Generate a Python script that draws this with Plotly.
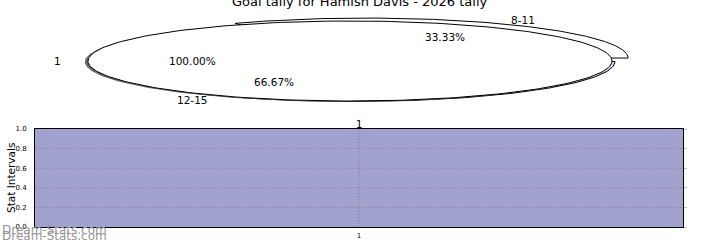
import numpy as np
import plotly.graph_objects as go

# ---------------- data ----------------
title_text = "Goal tally for Hamish Davis - 2026 tally"
y_title_text = "Stat Intervals"
pie1_labels = ["1"]
pie1_values = [1]
pie2_labels = ["8-11", "12-15"]
pie2_values = [1, 2]
pie2_explode = [0.1, 0.0]
pie2_colors = ["#ffffff", "#d8dcee"]
bar_x = [1]
bar_y = [1.0]
y_tick_vals = [0.0, 0.2, 0.4, 0.6, 0.8, 1.0]
x_tick_vals = [1]
x_tick_text = ["1"]

# ---------------- layout constants ----------------
W, H = 720, 240
RX, RY = 262, 40
P1_CX, P1_CY = 350, 61
P2_CX, P2_CY = 353, 61.5
FONT = "DejaVu Sans"


def to_px(cx, cy, ux, uy):
    return cx + RX * np.asarray(ux), cy - RY * np.asarray(uy)


def wedge(cx, cy, t1, t2, ox=0.0, oy=0.0):
    th = np.radians(np.linspace(t1, t2, 240))
    if abs((t2 - t1) - 360) < 1e-9:
        ux = np.cos(th) + ox
        uy = np.sin(th) + oy
    else:
        ux = np.concatenate([[0], np.cos(th), [0]]) + ox
        uy = np.concatenate([[0], np.sin(th), [0]]) + oy
    return to_px(cx, cy, ux, uy)


fig = go.Figure()
annotations = []


def add_pie(values, labels, cx, cy, explode, colors, shadow=False):
    total = float(sum(values))
    start = 0.0
    for i, v in enumerate(values):
        frac = v / total
        t1, t2 = start, start + 360.0 * frac
        mid = np.radians((t1 + t2) / 2)
        e = explode[i]
        ox, oy = e * np.cos(mid), e * np.sin(mid)
        if shadow:
            sx, sy = wedge(cx, cy, t1, t2, ox - 0.012, oy - 0.02)
            fig.add_trace(go.Scatter(x=sx, y=sy, mode="lines", fill="toself",
                                     fillcolor="rgb(105,105,105)",
                                     line=dict(width=0, color="rgb(105,105,105)"),
                                     hoverinfo="skip", showlegend=False,
                                     xaxis="x", yaxis="y"))
        px, py = wedge(cx, cy, t1, t2, ox, oy)
        fig.add_trace(go.Scatter(x=px, y=py, mode="lines", fill="toself",
                                 fillcolor=colors[i],
                                 line=dict(width=1, color="black"),
                                 hoverinfo="skip", showlegend=False,
                                 xaxis="x", yaxis="y"))
        lx, ly = to_px(cx, cy, 1.1 * np.cos(mid) + ox, 1.1 * np.sin(mid) + oy)
        annotations.append(dict(text=labels[i], x=float(lx), y=float(ly), xref="x", yref="y",
                                xanchor="left" if np.cos(mid) > 0 else "right",
                                yanchor="middle", showarrow=False, borderpad=0,
                                font=dict(family=FONT, size=10.5, color="black")))
        qx, qy = to_px(cx, cy, 0.6 * np.cos(mid) + ox, 0.6 * np.sin(mid) + oy)
        annotations.append(dict(text="%.2f%%" % (100 * frac), x=float(qx), y=float(qy),
                                xref="x", yref="y", xanchor="center", yanchor="middle",
                                showarrow=False, borderpad=0,
                                font=dict(family=FONT, size=10.5, color="black")))
        start = t2


add_pie(pie2_values, pie2_labels, P2_CX, P2_CY, pie2_explode, pie2_colors)
add_pie(pie1_values, pie1_labels, P1_CX, P1_CY, [0.0], ["#ffffff"], shadow=True)

# bar panel
fig.add_trace(go.Bar(x=bar_x, y=bar_y, width=1.0,
                     marker=dict(color="#a2a2cf", line=dict(width=0)),
                     hoverinfo="skip", showlegend=False,
                     xaxis="x2", yaxis="y2"))
# carrier for the right-hand tick marks (no marks of its own)
fig.add_trace(go.Scatter(x=[], y=[], mode="markers", hoverinfo="skip",
                         showlegend=False, xaxis="x2", yaxis="y3"))

GRID = dict(color="rgb(125,125,145)", width=1, dash="1px,2px")
shapes = []
for v in y_tick_vals[1:-1]:
    shapes.append(dict(type="line", xref="x2 domain", yref="y2", x0=0, x1=1, y0=v, y1=v,
                       line=GRID, layer="above"))
for v in x_tick_vals:
    shapes.append(dict(type="line", xref="x2", yref="y2 domain", x0=v, x1=v, y0=0, y1=1,
                       line=GRID, layer="above"))


def py2paper(py):
    return 1 - py / H


annotations += [
    dict(text=title_text, x=0.5, y=py2paper(1.5), xref="paper", yref="paper",
         xanchor="center", yanchor="middle", showarrow=False,
         font=dict(family=FONT, size=13, color="black")),
    dict(text=y_title_text, x=11 / W, y=0.5, xref="paper", yref="y2 domain",
         xanchor="center", yanchor="middle", textangle=-90, showarrow=False, borderpad=0,
         font=dict(family=FONT, size=10.5, color="black")),
    dict(text=x_tick_text[0], x=x_tick_vals[0], y=1, xref="x2", yref="y2 domain",
         xanchor="center", yanchor="bottom", yshift=-2, showarrow=False, borderpad=0,
         font=dict(family=FONT, size=10, color="black")),
    dict(text="Dream-Stats.com", x=0, y=py2paper(230), xref="paper", yref="paper",
         xanchor="left", yanchor="middle", showarrow=False,
         font=dict(family=FONT, size=12, color="rgb(150,150,150)")),
    dict(text="Dream-Stats.com", x=0, y=py2paper(235.5), xref="paper", yref="paper",
         xanchor="left", yanchor="middle", showarrow=False,
         font=dict(family=FONT, size=12, color="rgb(150,150,150)")),
]

fig.update_layout(
    width=W, height=H,
    margin=dict(l=0, r=0, t=0, b=0),
    paper_bgcolor="white",
    plot_bgcolor="rgba(0,0,0,0)",
    showlegend=False,
    bargap=0,
    xaxis=dict(domain=[0, 1], range=[0, W], visible=False, fixedrange=True, automargin=False),
    yaxis=dict(domain=[0, 1], range=[H, 0], visible=False, fixedrange=True, automargin=False),
    xaxis2=dict(domain=[35 / W, 683 / W], anchor="y2", range=[0.5, 1.5], automargin=False,
                tickvals=x_tick_vals, ticktext=x_tick_text, ticks="",
                ticklabelstandoff=2,
                showgrid=False, zeroline=False,
                showline=True, mirror=True, linecolor="black", linewidth=1,
                tickfont=dict(family=FONT, size=7, color="black")),
    yaxis2=dict(domain=[13 / H, 111 / H], anchor="x2", range=[0, 1], automargin=False,
                tickvals=y_tick_vals, tickformat=".1f", ticks="",
                ticklabelstandoff=6,
                showgrid=False, zeroline=False,
                showline=True, mirror=True, linecolor="black", linewidth=1,
                tickfont=dict(family=FONT, size=7, color="black")),
    yaxis3=dict(overlaying="y2", anchor="x2", side="right", range=[0, 1], automargin=False,
                tickvals=y_tick_vals, showticklabels=False, ticks="outside", ticklen=3,
                tickcolor="rgb(190,190,190)", tickwidth=1,
                showgrid=False, zeroline=False, showline=False),
    shapes=shapes,
    annotations=annotations,
)

fig.write_html("out.html")
